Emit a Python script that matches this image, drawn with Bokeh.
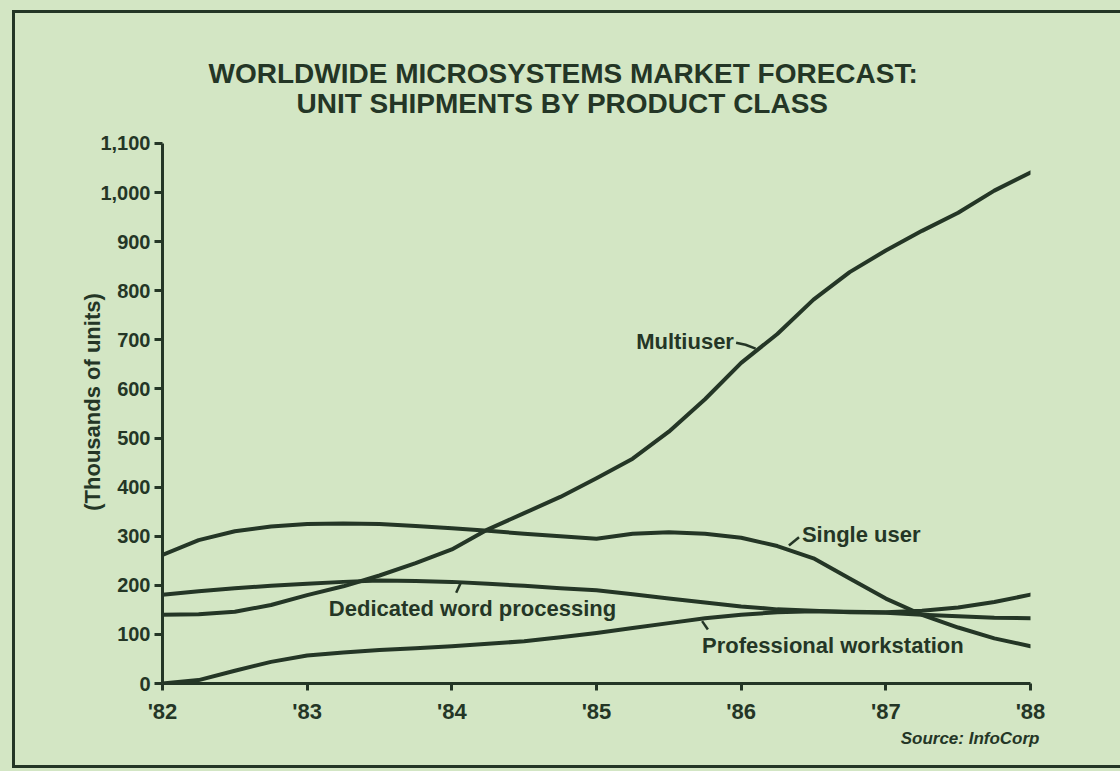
from bokeh.plotting import figure
from bokeh.models import (Range1d, FixedTicker, NumeralTickFormatter, Label, Title)
from bokeh.embed import file_html
from bokeh.resources import INLINE

# ---------------- data ----------------
years = [1982.0, 1982.25, 1982.5, 1982.75, 1983.0, 1983.25, 1983.5, 1983.75,
         1984.0, 1984.25, 1984.5, 1984.75, 1985.0, 1985.25, 1985.5, 1985.75,
         1986.0, 1986.25, 1986.5, 1986.75, 1987.0, 1987.25, 1987.5, 1987.75, 1988.0]

multiuser = [140, 141, 146, 160, 180, 198, 220, 245,
             273, 314, 347, 380, 418, 458, 513, 579,
             653, 712, 782, 838, 882, 922, 959, 1004, 1041]

single_user = [262, 292, 310, 320, 325, 326, 325, 321,
               316, 311, 305, 300, 295, 305, 308, 305,
               297, 280, 255, 214, 173, 140, 114, 92, 76]

dedicated_wp = [181, 188, 194, 199, 203, 207, 210, 209,
                207, 203, 199, 194, 190, 182, 173, 165,
                157, 151, 148, 145, 144, 140, 137, 134, 133]

professional_ws = [0, 7, 26, 44, 57, 63, 68, 72,
                   76, 81, 86, 94, 103, 113, 123, 133,
                   140, 145, 147, 146, 145, 148, 155, 166, 181]

x_ticks = [1982, 1983, 1984, 1985, 1986, 1987, 1988]
x_tick_labels = ["'82", "'83", "'84", "'85", "'86", "'87", "'88"]
y_ticks = [0, 100, 200, 300, 400, 500, 600, 700, 800, 900, 1000, 1100]

title_lines = ["WORLDWIDE MICROSYSTEMS MARKET FORECAST:",
               "UNIT SHIPMENTS BY PRODUCT CLASS"]
y_title = "(Thousands of units)"
source = "Source: InfoCorp"

# ---------------- style ----------------
BG = "#d3e6c4"
INK = "#243626"
FONT = "Liberation Sans"

p = figure(width=1120, height=771, output_backend="svg", toolbar_location=None,
           x_range=Range1d(1982, 1988), y_range=Range1d(0, 1146.8),
           min_border_left=162, min_border_right=90,
           min_border_top=120, min_border_bottom=88, title_location=None)
p.styles = {
    "background-color": BG,
    "box-shadow": (f"inset 12px 10px 0 0 {BG}, inset 0 -3px 0 0 {BG}, "
                   f"inset 15px 13px 0 0 {INK}, inset 0 -6px 0 0 {INK}"),
}
p.background_fill_alpha = 0
p.border_fill_alpha = 0
p.outline_line_color = None
p.grid.visible = False

for ax in (p.xaxis[0], p.yaxis[0]):
    ax.axis_line_color = INK
    ax.axis_line_width = 3
    ax.major_tick_line_color = INK
    ax.major_tick_line_width = 3
    ax.major_tick_in = 0
    ax.minor_tick_line_color = None
    ax.major_label_text_color = INK
    ax.major_label_text_font = FONT
    ax.major_label_text_font_style = "bold"

p.xaxis.ticker = FixedTicker(ticks=x_ticks)
p.xaxis.major_label_overrides = {t: l for t, l in zip(x_ticks, x_tick_labels)}
p.xaxis.major_tick_out = 7
p.xaxis.major_label_standoff = 8
p.xaxis.major_label_text_font_size = "22px"

p.yaxis.ticker = FixedTicker(ticks=y_ticks)
p.yaxis.bounds = (0, 1100)
p.yaxis.formatter = NumeralTickFormatter(format="0,0")
p.yaxis.major_tick_out = 8
p.yaxis.major_label_standoff = 4
p.yaxis.major_label_text_font_size = "20px"
p.yaxis.axis_label = y_title
p.yaxis.axis_label_text_font = FONT
p.yaxis.axis_label_text_font_style = "bold"
p.yaxis.axis_label_text_font_size = "22px"
p.yaxis.axis_label_text_color = INK
p.yaxis.axis_label_standoff = -8

# title (two lines, stacked above the plot area) and source note
p.add_layout(Title(text=title_lines[1], align="left", offset=134, standoff=3,
                   text_font=FONT, text_font_style="bold", text_font_size="28px",
                   text_color=INK), "above")
p.add_layout(Title(text=title_lines[0], align="left", offset=46, standoff=-8,
                   text_font=FONT, text_font_style="bold", text_font_size="28px",
                   text_color=INK), "above")
p.add_layout(Title(text=source, align="right", offset=-9, standoff=0, text_font=FONT,
                   text_font_style="bold italic", text_font_size="17px",
                   text_color=INK), "below")

# ---------------- series ----------------
for ys in (multiuser, single_user, dedicated_wp, professional_ws):
    p.line(years, ys, line_color=INK, line_width=4, line_join="round", line_cap="round")

# leader ticks from labels to curves
p.line([1985.965, 1986.03, 1986.10], [694, 690, 682], line_color=INK, line_width=2.5)
p.line([1986.40, 1986.33], [298, 281], line_color=INK, line_width=2.5)
p.line([1984.03, 1984.06], [185, 204], line_color=INK, line_width=2.5)
p.line([1985.73, 1985.77], [127, 110], line_color=INK, line_width=2.5)

def lab(x, y, text, align="left", size="22px", style="bold"):
    p.add_layout(Label(x=x, y=y, text=text, text_font=FONT, text_font_style=style,
                       text_font_size=size, text_color=INK, text_align=align,
                       text_baseline="middle"))

lab(1985.95, 697, "Multiuser", align="right")
lab(1986.42, 303, "Single user")
lab(1983.15, 152, "Dedicated word processing")
lab(1985.73, 77, "Professional workstation")

open("out.html", "w").write(file_html(p, INLINE))
